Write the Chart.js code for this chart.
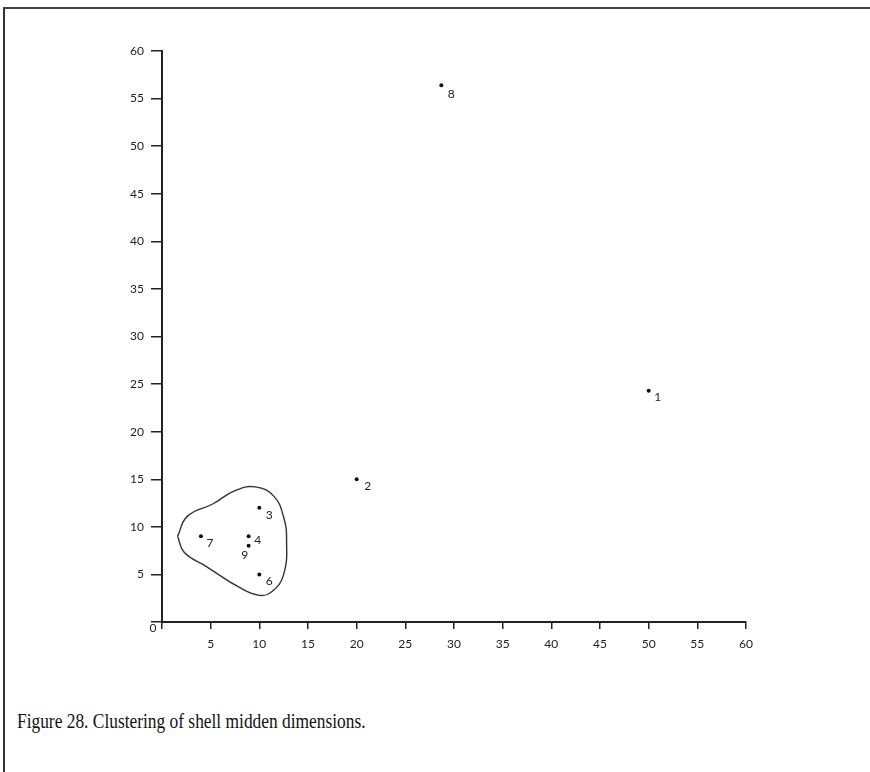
<!DOCTYPE html>
<html>
<head>
<meta charset="utf-8">
<script src="https://cdn.jsdelivr.net/npm/chart.js@4/dist/chart.umd.min.js"></script>
<style>
  html, body { margin: 0; padding: 0; background: #fff; }
  body { width: 870px; height: 772px; position: relative; overflow: hidden; }
  #frame { position: absolute; left: 3px; top: 7px; width: 870px; height: 780px;
           border-left: 2px solid #333; border-top: 2px solid #444; }
  #wrap { position: absolute; left: 0; top: 0; width: 870px; height: 660px; }
  #caption { position: absolute; left: 17px; top: 710px; font: 22px 'Liberation Serif', serif;
             line-height: 22px; color: #111; white-space: nowrap;
             transform: scaleX(0.79); transform-origin: left top; }
</style>
</head>
<body>
<div id="frame"></div>
<div id="wrap"><canvas id="chart"></canvas></div>
<div id="caption">Figure 28. Clustering of shell midden dimensions.</div>
<script>
// shell midden sites
const siteLabels = ['1', '2', '3', '4', '6', '7', '8', '9'];
const siteX      = [50, 20, 10, 8.9, 10, 4, 28.7, 8.9];
const siteY      = [24.3, 15, 12, 9, 5, 9, 56.4, 8];

// hand-drawn cluster outline
const contourX = [1.6, 2.6, 5.2, 7.5, 9.6, 11.5, 12.5, 12.8, 12.5, 11.3, 10.0, 8.0, 4.6, 2.3, 1.6];
const contourY = [9.0, 11.1, 12.4, 13.8, 14.2, 13.2, 11.0, 8.6, 5.0, 3.2, 2.8, 3.6, 5.8, 7.3, 9.0];

const xTicks = [0, 5, 10, 15, 20, 25, 30, 35, 40, 45, 50, 55, 60];
const yTicks = [0, 5, 10, 15, 20, 25, 30, 35, 40, 45, 50, 55, 60];

const INK = '#222';
const TICK_FONT = { family: 'Lato', size: 12 };

/* ── point labels next to each dot ── */
const pointLabels = {
  id: 'pointLabels',
  afterDatasetsDraw(chart, args, opts) {
    const { ctx } = chart;
    const meta = chart.getDatasetMeta(1);
    ctx.save();
    ctx.fillStyle = INK;
    ctx.font = "12px Lato";
    ctx.textAlign = 'center';
    ctx.textBaseline = 'middle';
    meta.data.forEach((pt, i) => {
      const o = opts.offsets[i];
      ctx.fillText(siteLabels[i], pt.x + o[0], pt.y + o[1]);
    });
    // origin label sits below-left of the corner
    const x0 = chart.scales.x.getPixelForValue(0);
    const y0 = chart.scales.y.getPixelForValue(0);
    ctx.fillText('0', x0 - 9, y0 + 6);
    ctx.restore();
  }
};

new Chart(document.getElementById('chart').getContext('2d'), {
  type: 'scatter',
  data: {
    datasets: [
      {
        label: 'cluster',
        data: contourX.map((x, i) => ({ x, y: contourY[i] })),
        showLine: true,
        tension: 0.45,
        borderColor: '#333',
        borderWidth: 1.4,
        pointRadius: 0,
        fill: false,
      },
      {
        label: 'sites',
        data: siteX.map((x, i) => ({ x, y: siteY[i] })),
        backgroundColor: '#111',
        borderColor: '#111',
        borderWidth: 0,
        pointRadius: 2,
      },
    ],
  },
  options: {
    responsive: true,
    maintainAspectRatio: false,
    animation: false,
    layout: { padding: { top: 51, right: 124, left: 0, bottom: 0 } },
    plugins: {
      legend: { display: false },
      tooltip: { enabled: false },
      pointLabels: {
        offsets: [[9, 6], [11, 7], [10, 7], [9, 4], [10, 7], [9, 7], [10, 9], [-4, 9]],
      },
    },
    scales: {
      x: {
        type: 'linear', min: 0, max: 60,
        afterFit: s => { s.height = 38; },
        afterBuildTicks: s => { s.ticks = xTicks.map(v => ({ value: v })); },
        grid: { drawOnChartArea: false, tickLength: 7, color: INK, lineWidth: 1.5 },
        border: { color: INK, width: 2 },
        ticks: { color: INK, font: TICK_FONT, padding: 8, maxRotation: 0,
                 callback: v => (v === 0 ? '' : v) },
      },
      y: {
        type: 'linear', min: 0, max: 60,
        afterFit: s => { s.width = 162; },
        afterBuildTicks: s => { s.ticks = yTicks.map(v => ({ value: v })); },
        grid: { drawOnChartArea: false, tickLength: 11, color: INK, lineWidth: 1.5 },
        border: { color: INK, width: 2 },
        ticks: { color: INK, font: TICK_FONT, padding: 7,
                 callback: v => (v === 0 ? '' : v) },
      },
    },
  },
  plugins: [pointLabels],
});
</script>
</body>
</html>
